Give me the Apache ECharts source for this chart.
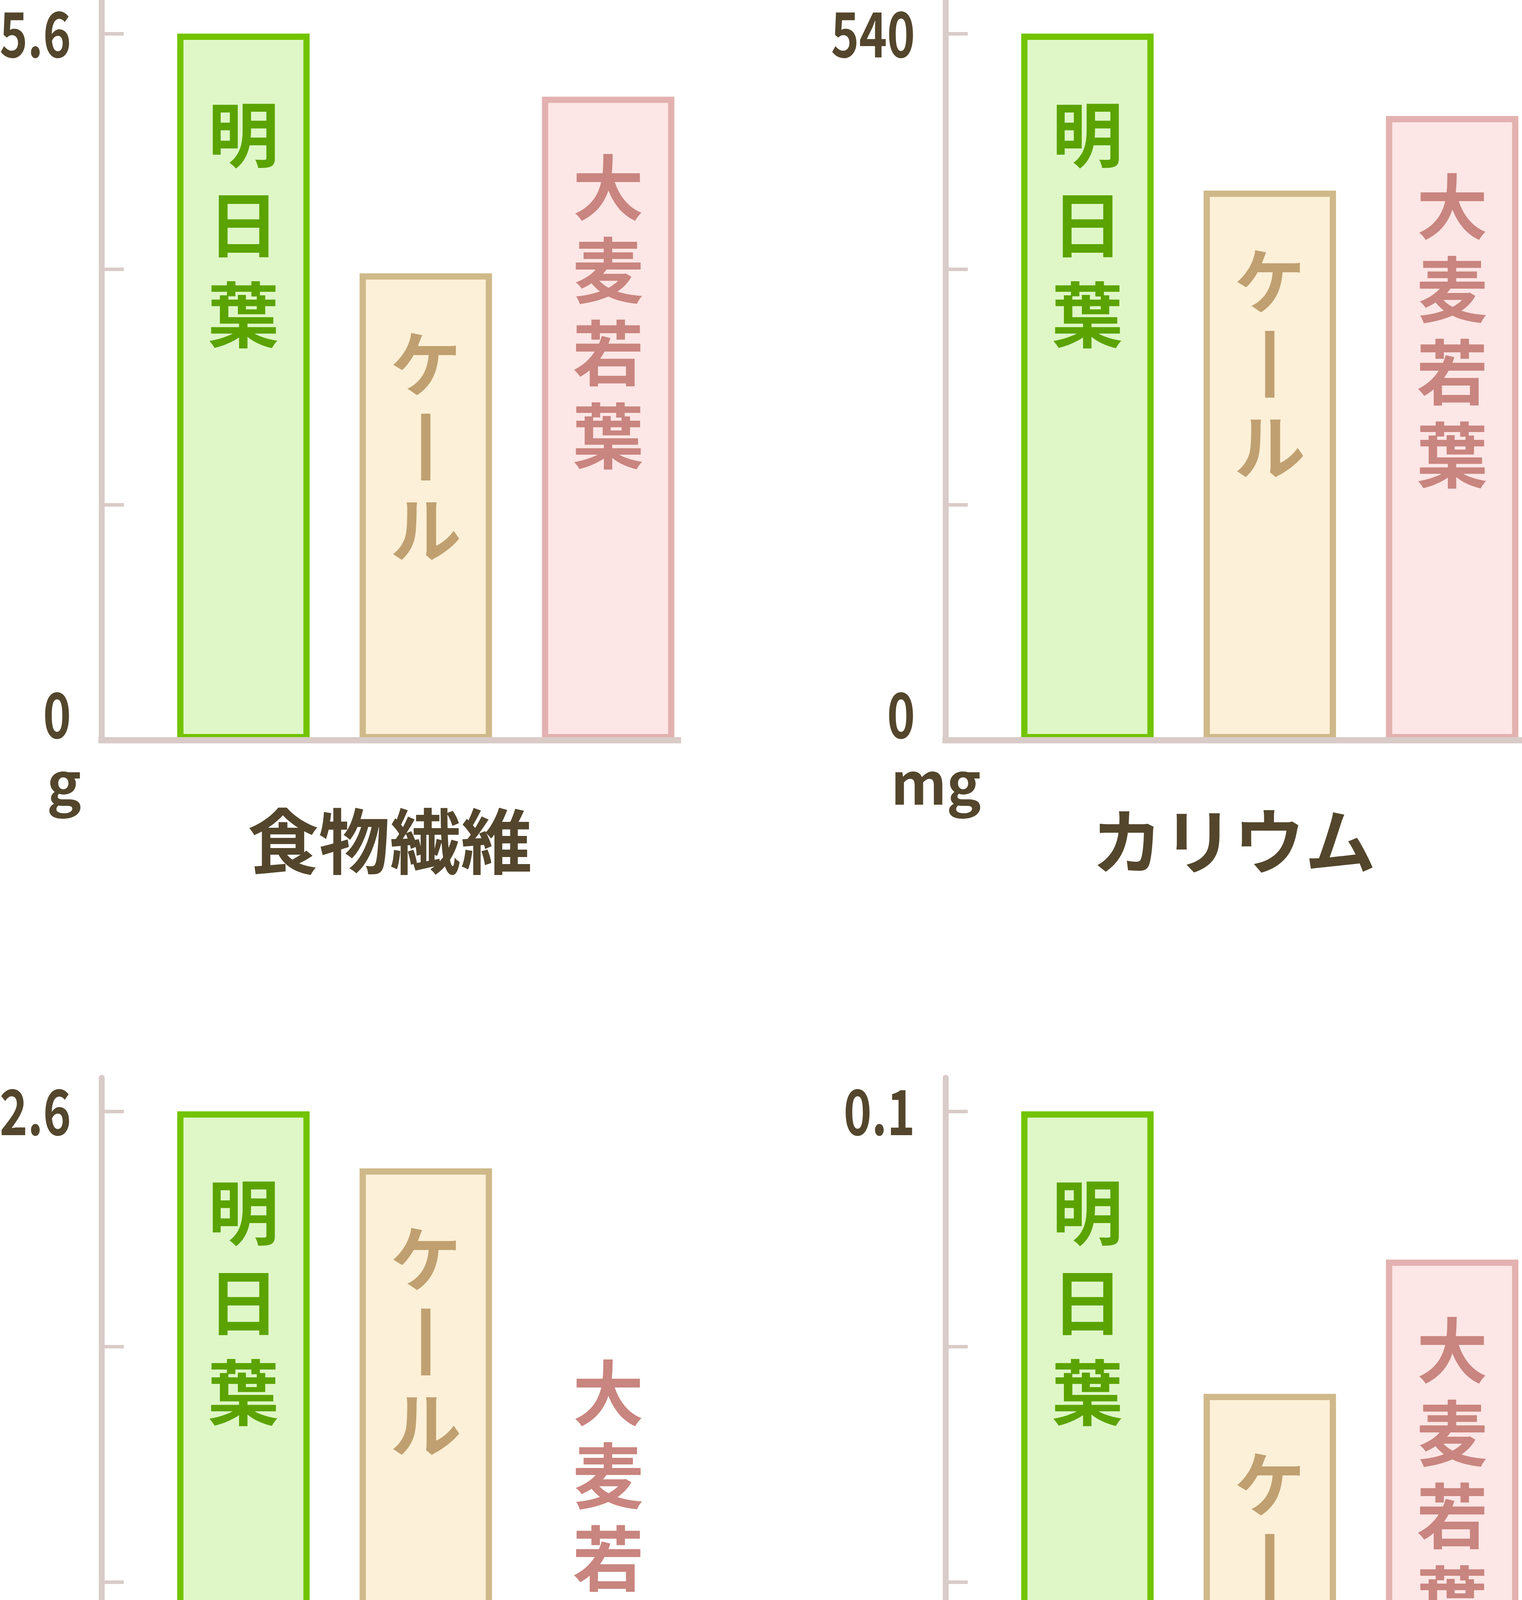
<!DOCTYPE html>
<html>
<head>
<meta charset="utf-8">
<script src="https://cdn.jsdelivr.net/npm/echarts@6/dist/echarts.min.js"></script>
<style>
html,body{margin:0;padding:0;background:#ffffff;}
#chart{width:3897px;height:5000px;}
</style>
</head>
<body>
<div id="chart"></div>
<script>
// ---- data ----
const categories = ['明日葉', 'ケール', '大麦若葉'];
const panelTitles = ['食物繊維', 'カリウム', 'ビタミンE', 'ビタミンB1'];
const units = ['g', 'mg', 'mg', 'mg'];
const fiberValues = [5.6, 3.7, 5.1];
const potassiumValues = [540, 420, 477];
const vitaminEValues = [2.6, 2.39, 0.36];
const vitaminB1Values = [0.1, 0.06, 0.079];
const axisMaxLabels = [5.6, 540, 2.6, 0.1];
const axisMinLabel = 0;

// ---- styles ----
const FONT = "'Noto Sans CJK JP', 'Noto Sans', sans-serif";
const TEXT = '#53462c';
const AXIS = '#d9cbc8';
const fills = ['#dff7c6', '#fdf0d8', '#fde6e6'];
const borders = ['#72c300', '#cfb98a', '#e3b1b0'];
const labelColors = ['#5ba300', '#c0a070', '#c9857f'];
const labelLineHeights = [231, 212, 212];
const labelDistances = [142, 126, 126];

const panelValues = [fiberValues, potassiumValues, vitaminEValues, vitaminB1Values];
const panels = [
  { left: 260, top: 0, height: 1895 },
  { left: 2421, top: 0, height: 1895 },
  { left: 260, top: 2759, height: 1894 },
  { left: 2421, top: 2759, height: 1894 }
];
const GRID_W = 1476;
const HEADROOM = 1.0475;

function vertical(name) {
  return name.split('').map(c => (c === 'ー' ? '丨' : c)).join('\n');
}

const grid = [], xAxis = [], yAxis = [], series = [], title = [];
panels.forEach((p, i) => {
  const M = axisMaxLabels[i];
  grid.push({ left: p.left, top: p.top, width: GRID_W, height: p.height,
    containLabel: false, outerBoundsMode: 'none' });
  xAxis.push({
    type: 'value', gridIndex: i, min: -0.778, max: 2.383, z: 5,
    axisLine: { show: true, onZero: false, lineStyle: { color: AXIS, width: 16, cap: 'square' } },
    axisTick: { show: false }, axisLabel: { show: false }, splitLine: { show: false },
    name: panelTitles[i], nameLocation: 'middle', nameGap: 168,
    nameTextStyle: { fontFamily: FONT, fontSize: 182, fontWeight: 'bold', color: TEXT }
  });
  yAxis.push({
    type: 'value', gridIndex: i, min: axisMinLabel, max: M * HEADROOM, z: 5,
    axisLine: { show: true, onZero: false, lineStyle: { color: AXIS, width: 15 } },
    axisTick: { show: true, inside: true, length: 57, lineStyle: { color: AXIS, width: 9 },
      customValues: [M / 3, 2 * M / 3, M] },
    axisLabel: { show: false },
    splitLine: { show: false }
  });
  const vals = panelValues[i];
  series.push({
    type: 'bar', xAxisIndex: i, yAxisIndex: i, barWidth: 339, z: 2,
    data: vals.map((v, j) => {
      const outside = v / M < 0.5;
      return {
        value: [j, v], name: categories[j],
        itemStyle: { color: fills[j], borderColor: borders[j], borderWidth: 16 },
        label: {
          show: true, position: outside ? 'top' : 'insideTop',
          distance: outside ? 95 : labelDistances[j],
          color: labelColors[j], lineHeight: labelLineHeights[j]
        }
      };
    }),
    label: {
      show: true, formatter: prm => vertical(prm.name),
      fontFamily: FONT, fontSize: 182, fontWeight: 'bold'
    }
  });
  title.push({
    text: units[i], left: p.left - 140, top: p.top + p.height + 35, padding: 0,
    textStyle: { fontFamily: FONT, fontSize: 148, fontWeight: 'bold', color: TEXT }
  });
});

const chart = echarts.init(document.getElementById('chart'), null, { renderer: 'canvas' });
chart.setOption({
  animation: false,
  backgroundColor: '#ffffff',
  title, grid, xAxis, yAxis, series
});

// y-axis tick labels (condensed digits), positioned through the axis scale
const graphic = [];
panels.forEach((p, i) => {
  [axisMinLabel, axisMaxLabels[i]].forEach(v => {
    const y = chart.convertToPixel({ yAxisIndex: i }, v);
    graphic.push({
      type: 'text', x: p.left - 78, y: v === axisMinLabel ? y - 66 : y,
      scaleX: 0.76, z: 10,
      style: {
        text: String(v), fill: TEXT,
        font: "bold 160px 'Noto Sans CJK JP', 'Noto Sans', sans-serif",
        align: 'right', verticalAlign: 'middle',
        textAlign: 'right', textVerticalAlign: 'middle'
      }
    });
  });
});
chart.setOption({ graphic });
</script>
</body>
</html>
